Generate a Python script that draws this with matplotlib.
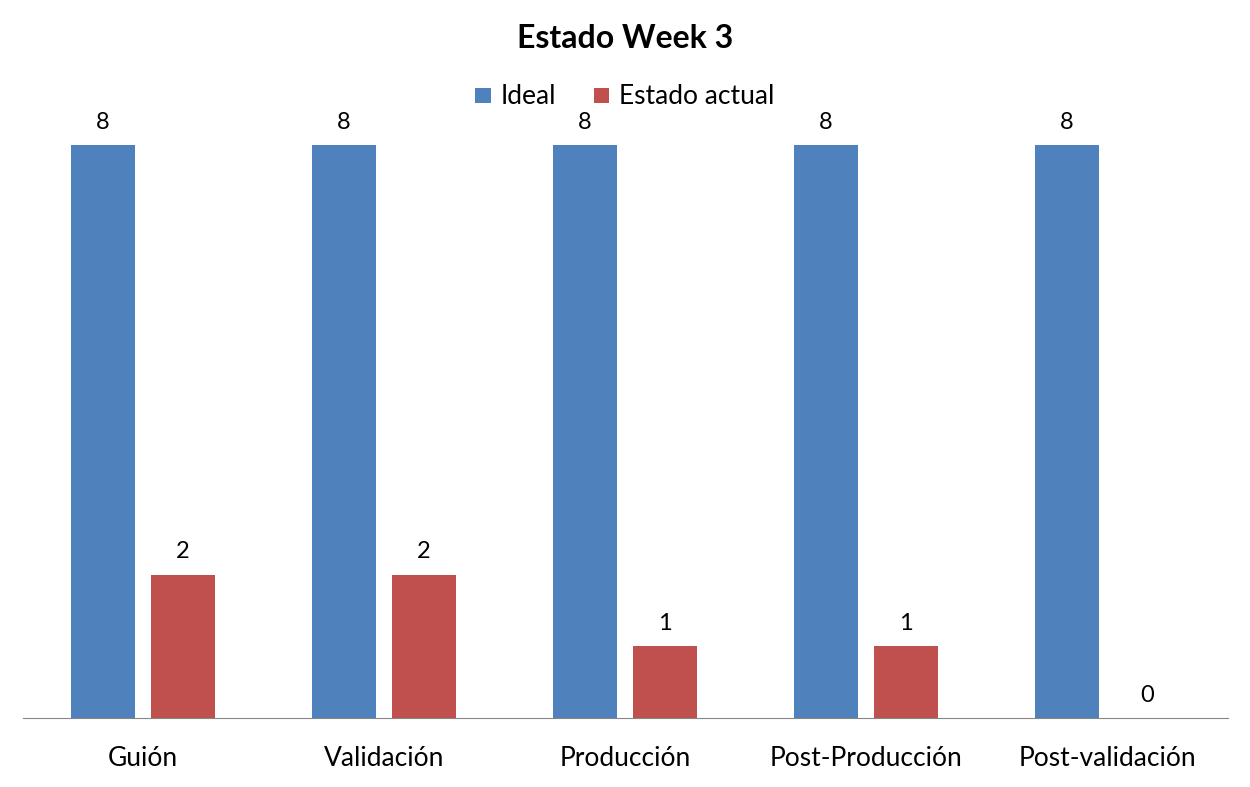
import matplotlib
matplotlib.use("Agg")
import matplotlib.pyplot as plt
import numpy as np

categories = ["Guión", "Validación", "Producción", "Post-Producción", "Post-validación"]
ideal = [8, 8, 8, 8, 8]
actual = [2, 2, 1, 1, 0]
series_names = ["Ideal", "Estado actual"]

plt.rcParams['font.family'] = ['Lato', 'DejaVu Sans']

fig = plt.figure(figsize=(12.5, 7.87), dpi=100)
ax = fig.add_axes([22.5/1250, 69/787, 1205/1250, 608/787])

x = np.arange(len(categories))
w = 64/241
off = 40/241
b1 = ax.bar(x - off, ideal, w, color="#4F81BD", label=series_names[0])
b2 = ax.bar(x + off, actual, w, color="#C0504D", label=series_names[1])

for bars in (b1, b2):
    for r in bars:
        ax.annotate(f"{int(r.get_height())}", (r.get_x() + r.get_width()/2, r.get_height()),
                    xytext=(0, 9), textcoords="offset points", ha="center", va="bottom",
                    fontsize=17, color="black")

ax.set_xlim(-0.5, len(categories) - 0.5)
ax.set_ylim(0, 608/71.6)
ax.set_xticks(x)
ax.set_xticklabels(categories, fontsize=19)
ax.tick_params(axis='x', length=0, pad=20)
ax.set_yticks([])
for s in ["top", "right", "left"]:
    ax.spines[s].set_visible(False)
ax.spines["bottom"].set_color("#868686")

fig.text(0.5, 1 - 38/787, "Estado Week 3", ha="center", va="center", fontsize=23, fontweight="bold")
fig.legend(handles=[b1, b2], labels=series_names, loc="center", bbox_to_anchor=(0.5, 1 - 97/787),
           ncol=2, frameon=False, fontsize=19, handlelength=0.58, handleheight=0.5,
           handletextpad=0.4, columnspacing=1.4, borderpad=0)

fig.savefig("out.png", dpi=100)
